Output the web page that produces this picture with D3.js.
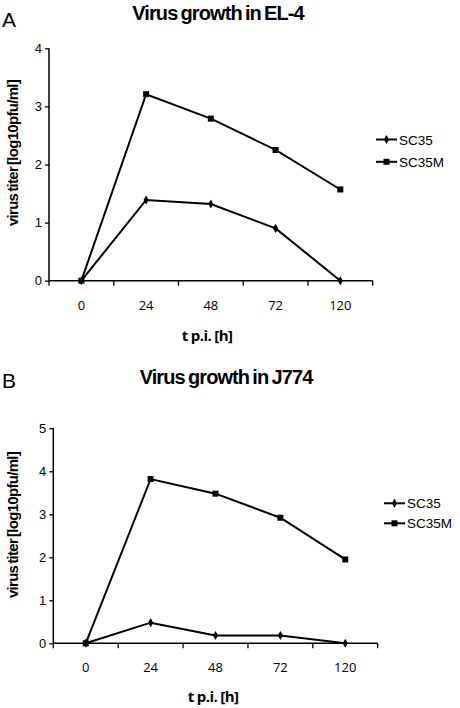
<!DOCTYPE html>
<html><head><meta charset="utf-8">
<script src="https://cdn.jsdelivr.net/npm/d3@7"></script>
<style>body{margin:0;background:#fff}svg{display:block}</style>
</head><body>
<script>
const categories = ["0","24","48","72","120"];
const seriesNames = ["SC35","SC35M"];
const elSC35  = [0, 1.39, 1.32, 0.90, 0];
const elSC35M = [0, 3.21, 2.79, 2.25, 1.57];
const jSC35   = [0, 0.48, 0.18, 0.18, 0];
const jSC35M  = [0, 3.82, 3.48, 2.92, 1.95];
const elYTicks = [0,1,2,3,4];
const jYTicks  = [0,1,2,3,4,5];
const titles = ["Virus growth in EL-4","Virus growth in J774"];
const panelLetters = ["A","B"];
const yLabel = "virus titer [log10pfu/ml]";
const xLabel = "t p.i. [h]";

const svg = d3.select("body").append("svg").attr("width",460).attr("height",708);

function panel(cfg){
  const g = svg.append("g");
  const x = d3.scaleBand().domain(categories).range([cfg.x0, cfg.x1]).padding(0);
  const y = d3.scaleLinear().domain([0, cfg.yMax]).range([cfg.yBase, cfg.yTop]);
  g.append("text").attr("x",2).attr("y",cfg.letterY).text(cfg.letter)
    .attr("font-family","Liberation Sans, Arial").attr("font-size",21);
  g.append("text").attr("x",cfg.titleX).attr("y",cfg.titleY).attr("text-anchor","middle")
    .text(cfg.title).attr("font-family","Liberation Sans, Arial").attr("font-weight","bold")
    .attr("font-size",20).attr("letter-spacing",-0.9).attr("word-spacing",-1.5);
  const ya = g.append("g").attr("transform",`translate(${cfg.x0},0)`)
    .call(d3.axisLeft(y).tickValues(cfg.yTicks).tickSize(4).tickPadding(3).tickFormat(d3.format("d")));
  ya.select(".domain").attr("stroke","#000").attr("stroke-width",1.5).attr("d",`M0,${cfg.yBase}V${cfg.yTop}`);
  ya.selectAll(".tick line").attr("stroke-width",1.3);
  ya.selectAll(".tick text").attr("font-family","Liberation Sans, Arial").attr("font-size",13).attr("fill","#000");
  const bounds = categories.map(c=>x(c)).concat([cfg.x1]);
  g.append("line").attr("x1",cfg.x0).attr("x2",cfg.x1).attr("y1",cfg.yBase).attr("y2",cfg.yBase)
    .attr("stroke","#000").attr("stroke-width",1.5);
  g.selectAll(".bt").data(bounds).join("line").attr("x1",d=>d).attr("x2",d=>d)
    .attr("y1",cfg.yBase).attr("y2",cfg.yBase+5).attr("stroke","#000").attr("stroke-width",1.3);
  g.selectAll(".xl").data(categories).join("text")
    .attr("x",d=>x(d)+x.bandwidth()/2).attr("y",cfg.yBase+29).attr("text-anchor","middle")
    .text(d=>d).attr("font-family","Open Sans, Noto Sans, sans-serif").attr("font-size",13);
  g.append("text").attr("transform",`translate(${cfg.yLabelX},${cfg.yLabelY}) rotate(-90)`)
    .attr("text-anchor","middle").text(yLabel).attr("font-family","Liberation Sans, Arial")
    .attr("font-weight","bold").attr("font-size",15).attr("letter-spacing",-0.7).attr("word-spacing",-1.5);
  g.append("text").attr("x",cfg.xLabelX).attr("y",cfg.xLabelY).attr("text-anchor","middle")
    .text(xLabel).attr("font-family","Open Sans, Noto Sans, sans-serif").attr("font-weight","bold")
    .attr("font-size",15).attr("letter-spacing",-0.6);
  const line = d3.line().x((d,i)=>x(categories[i])+x.bandwidth()/2).y(d=>y(d));
  cfg.series.forEach((vals)=>{
    g.append("path").datum(vals).attr("d",line).attr("fill","none").attr("stroke","#000").attr("stroke-width",2);
  });
  const sym = [d3.symbolDiamond, d3.symbolSquare];
  const sz = [24, 36];
  cfg.series.forEach((vals,si)=>{
    g.selectAll(null).data(vals).join("path")
      .attr("transform",(d,i)=>`translate(${x(categories[i])+x.bandwidth()/2},${y(d)})`)
      .attr("d",d3.symbol(sym[si],sz[si])).attr("fill","#000");
  });
  seriesNames.forEach((n,si)=>{
    const ly = cfg.legY + si*cfg.legGap;
    g.append("line").attr("x1",cfg.legX).attr("x2",cfg.legX+21).attr("y1",ly).attr("y2",ly)
      .attr("stroke","#000").attr("stroke-width",2);
    g.append("path").attr("transform",`translate(${cfg.legX+10.5},${ly})`)
      .attr("d",d3.symbol(sym[si],sz[si])).attr("fill","#000");
    g.append("text").attr("x",cfg.legX+23).attr("y",ly+5).text(n)
      .attr("font-family","Liberation Sans, Arial").attr("font-size",13.5);
  });
}

panel({letter:panelLetters[0], letterY:27, title:titles[0], titleX:218, titleY:20,
  x0:49, x1:372.7, yBase:280.7, yTop:48.3, yMax:4, yTicks:elYTicks,
  series:[elSC35, elSC35M], yLabelX:17.5, yLabelY:153, xLabelX:207, xLabelY:341,
  legX:376, legY:139.5, legGap:22.3});
panel({letter:panelLetters[1], letterY:388, title:titles[1], titleX:226, titleY:384,
  x0:53.3, x1:377.7, yBase:643.3, yTop:428.3, yMax:5, yTicks:jYTicks,
  series:[jSC35, jSC35M], yLabelX:17.5, yLabelY:525, xLabelX:213, xLabelY:702,
  legX:384, legY:503.3, legGap:20});
</script>
</body></html>
